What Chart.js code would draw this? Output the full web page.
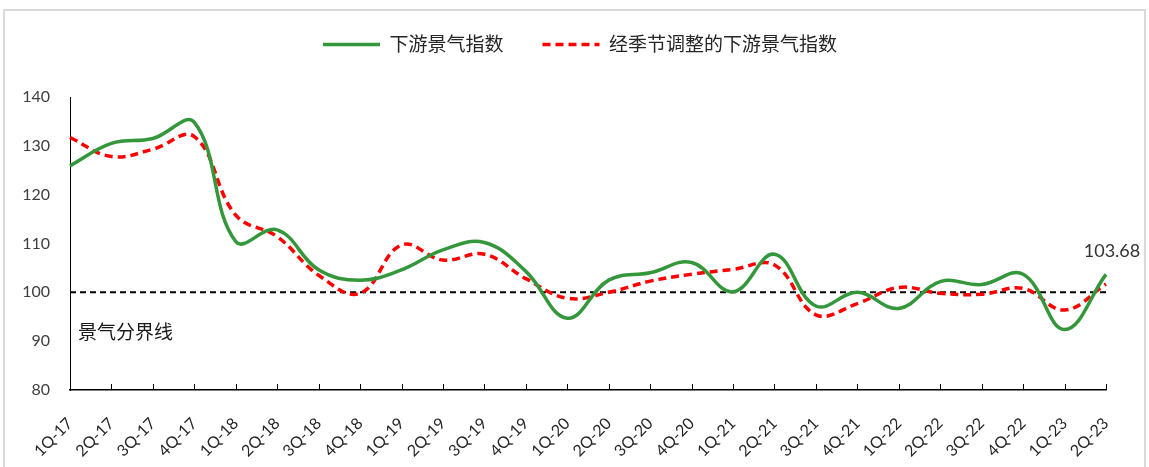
<!DOCTYPE html>
<html lang="zh-CN">
<head>
<meta charset="utf-8">
<title>下游景气指数</title>
<script src="https://cdn.jsdelivr.net/npm/chart.js@4.4.1/dist/chart.umd.min.js"></script>
<style>
  html, body { margin: 0; padding: 0; background: #ffffff; }
  #wrap { position: relative; width: 1149px; height: 467px; overflow: hidden; }
  #frame {
    position: absolute; left: 3px; top: 9px; width: 1143px; height: 480px;
    border: 2px solid #d9d9d9; box-sizing: border-box; pointer-events: none;
  }
  canvas { display: block; }
</style>
</head>
<body>
<div id="wrap">
  <canvas id="chart" width="1149" height="467"></canvas>
  <div id="frame"></div>
</div>
<script>
// Quarter labels on the category axis
const quarters = [
  '1Q-17', '2Q-17', '3Q-17', '4Q-17',
  '1Q-18', '2Q-18', '3Q-18', '4Q-18',
  '1Q-19', '2Q-19', '3Q-19', '4Q-19',
  '1Q-20', '2Q-20', '3Q-20', '4Q-20',
  '1Q-21', '2Q-21', '3Q-21', '4Q-21',
  '1Q-22', '2Q-22', '3Q-22', '4Q-22',
  '1Q-23', '2Q-23'
];

// Downstream prosperity index
const downstreamIndex = [
  125.9, 130.5, 131.5, 134.8,
  110.4, 112.8, 104.6, 102.5,
  104.6, 108.7, 110.2, 104.3,
  94.7, 102.5, 104.0, 106.1,
  100.1, 107.8, 97.2, 100.0,
  96.7, 102.2, 101.6, 103.7,
  92.4, 103.68
];

// Seasonally adjusted downstream prosperity index
const adjustedIndex = [
  131.7, 127.8, 129.3, 131.9,
  115.8, 111.4, 103.5, 99.8,
  109.7, 106.6, 107.8, 102.8,
  98.8, 100.0, 102.3, 103.7,
  104.7, 105.6, 95.4, 97.7,
  101.0, 99.8, 99.6, 100.8,
  96.4, 101.7
];

// Boundary between expansion and contraction
const boundaryValue = 100;
const boundaryLabel = '景气分界线';

// Value axis ticks
const yMin = 80;
const yMax = 140;
const yStep = 10;

const FONT = "Lato, 'Noto Sans CJK SC', sans-serif";
const TEXT = '#404040';

// Legend sits in its own band above the plot area
const legendBand = {
  id: 'legendBand',
  afterInit(chart) {
    const legend = chart.legend;
    if (!legend || legend._bandFit) return;
    const fit = legend.fit;
    legend.fit = function () {
      fit.call(this);
      this.height = 97;
    };
    legend._bandFit = true;
  },
  afterLayout(chart) {
    const legend = chart.legend;
    if (!legend) return;
    legend.left -= 8;
    legend.right -= 8;
    legend.top -= 4;
  }
};

// Dashed 100 boundary line with its caption
const boundaryLine = {
  id: 'boundaryLine',
  beforeDatasetsDraw(chart) {
    const { ctx, chartArea, scales: { y } } = chart;
    const py = y.getPixelForValue(boundaryValue);
    ctx.save();
    ctx.strokeStyle = '#000000';
    ctx.lineWidth = 2;
    ctx.setLineDash([6, 4]);
    ctx.beginPath();
    ctx.moveTo(chartArea.left, py);
    ctx.lineTo(chartArea.right, py);
    ctx.stroke();
    ctx.setLineDash([]);
    ctx.fillStyle = '#1a1a1a';
    ctx.font = '19px ' + FONT;
    ctx.textAlign = 'left';
    ctx.textBaseline = 'middle';
    ctx.fillText(boundaryLabel, chartArea.left + 8, py + 41);
    ctx.restore();
  }
};

// Inward tick marks on the category axis
const innerTicks = {
  id: 'innerTicks',
  afterDraw(chart) {
    const { ctx, scales: { x } } = chart;
    ctx.save();
    ctx.strokeStyle = '#000000';
    ctx.lineWidth = 1;
    for (let i = 1; i < x.ticks.length; i++) {
      const px = Math.round(x.getPixelForTick(i)) + 0.5;
      ctx.beginPath();
      ctx.moveTo(px, x.top);
      ctx.lineTo(px, x.top - 6);
      ctx.stroke();
    }
    ctx.restore();
  }
};

// Value label over the latest quarter
const lastValueLabel = {
  id: 'lastValueLabel',
  afterDatasetsDraw(chart) {
    const { ctx } = chart;
    const meta = chart.getDatasetMeta(0);
    const data = chart.data.datasets[0].data;
    const last = data.length - 1;
    const pt = meta.data[last];
    ctx.save();
    ctx.fillStyle = '#333333';
    ctx.font = '18px ' + FONT;
    ctx.textAlign = 'center';
    ctx.textBaseline = 'middle';
    ctx.fillText(data[last].toFixed(2), pt.x + 6, pt.y - 23);
    ctx.restore();
  }
};

new Chart(document.getElementById('chart'), {
  type: 'line',
  data: {
    labels: quarters,
    datasets: [
      {
        label: '下游景气指数',
        data: downstreamIndex,
        borderColor: '#35973b',
        backgroundColor: '#35973b',
        borderWidth: 3.5,
        tension: 0.4,
        pointRadius: 0,
        fill: false
      },
      {
        label: '经季节调整的下游景气指数',
        data: adjustedIndex,
        borderColor: '#ff0000',
        backgroundColor: '#ff0000',
        borderWidth: 3.5,
        borderDash: [8, 5],
        tension: 0.4,
        pointRadius: 0,
        fill: false
      }
    ]
  },
  options: {
    responsive: false,
    animation: false,
    devicePixelRatio: 1,
    layout: { padding: { top: 0, right: 43, bottom: 0, left: 0 } },
    plugins: {
      legend: {
        position: 'top',
        fullSize: false,
        labels: {
          usePointStyle: true,
          pointStyle: 'line',
          pointStyleWidth: 57,
          padding: 39,
          color: '#262626',
          font: { family: FONT, size: 19 },
          // legend samples follow each dataset's own stroke
          generateLabels(chart) {
            const items = Chart.defaults.plugins.legend.labels.generateLabels(chart);
            items.forEach(item => {
              const ds = chart.data.datasets[item.datasetIndex];
              item.strokeStyle = ds.borderColor;
              item.fillStyle = ds.borderColor;
              item.lineWidth = ds.borderWidth;
              item.lineDash = ds.borderDash || [];
              item.pointStyle = 'line';
            });
            return items;
          }
        }
      },
      tooltip: { enabled: false }
    },
    scales: {
      x: {
        grid: { display: false, drawTicks: false },
        border: { display: true, color: '#000000', width: 1.5 },
        ticks: {
          autoSkip: false,
          minRotation: 45,
          maxRotation: 45,
          padding: 24,
          color: '#262626',
          font: { family: FONT, size: 16 }
        },
        afterFit(scale) { scale.height = 77; }
      },
      y: {
        min: yMin,
        max: yMax,
        grid: { display: false, drawTicks: false },
        border: { display: true, color: '#000000', width: 1 },
        ticks: {
          stepSize: yStep,
          padding: 20,
          color: TEXT,
          font: { family: FONT, size: 16 }
        },
        afterFit(scale) { scale.width = 70; }
      }
    }
  },
  plugins: [legendBand, boundaryLine, innerTicks, lastValueLabel]
});
</script>
</body>
</html>
